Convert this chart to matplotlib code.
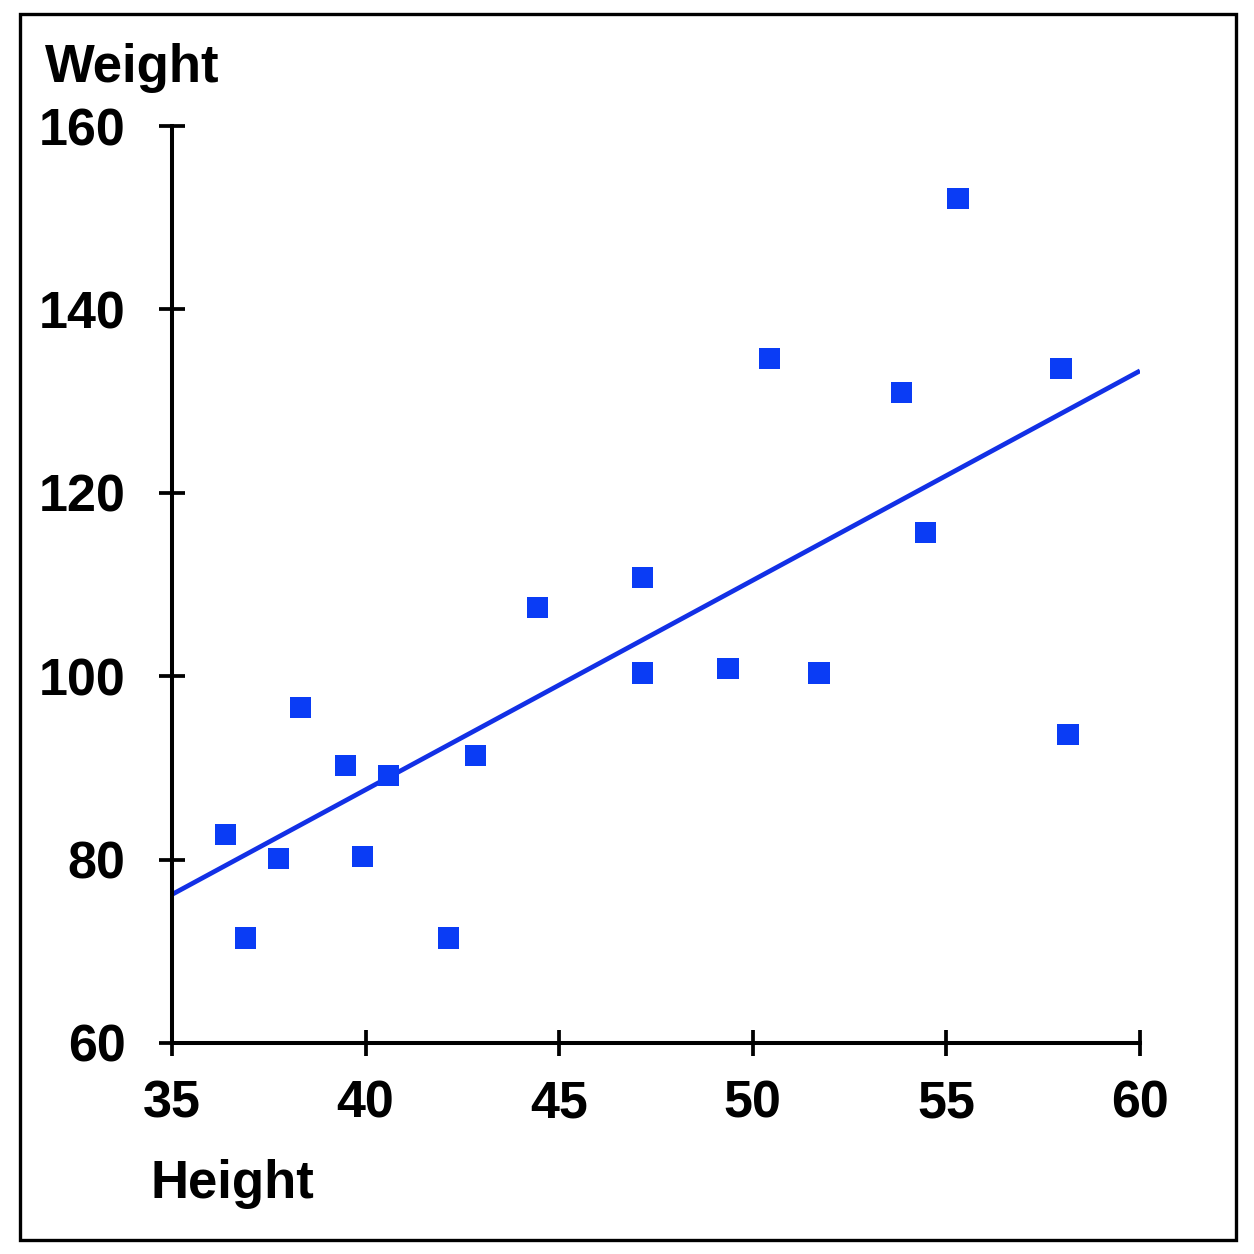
import matplotlib
matplotlib.use("Agg")
import matplotlib.pyplot as plt
from matplotlib.patches import Rectangle

height = [36.39, 36.91, 37.74, 38.31, 39.49, 39.91, 40.60, 42.15, 42.85, 44.45,
          47.16, 47.16, 49.36, 50.42, 51.71, 53.85, 54.47, 55.30, 57.96, 58.14]
weight = [82.7, 71.45, 80.1, 96.6, 90.3, 80.3, 89.2, 71.45, 91.4, 107.5,
          110.8, 100.35, 100.8, 134.6, 100.35, 130.9, 115.7, 152.1, 133.6, 93.6]
trend_x = [35, 60]
trend_y = [76.2, 133.3]
xticks = [35, 40, 45, 50, 55, 60]
yticks = [60, 80, 100, 120, 140, 160]

plt.rcParams['font.family'] = ['Liberation Sans', 'DejaVu Sans']
plt.rcParams['font.weight'] = 'bold'

W = 1254
fig = plt.figure(figsize=(12.54, 12.54), dpi=100)
ax = fig.add_axes([172/W, 1 - 1043/W, 968/W, 917/W])

ax.plot(trend_x, trend_y, color='#1230e6', lw=3.4, zorder=2, solid_capstyle='butt')
ax.scatter(height, weight, marker='s', s=230, color='#0a3cf5', edgecolors='none', zorder=3, clip_on=False)

ax.set_xlim(35, 60)
ax.set_ylim(60, 160)
ax.set_xticks(xticks)
ax.set_yticks(yticks)
ax.set_xticklabels([str(v) for v in xticks], fontsize=37.5, fontweight='bold')
ax.set_yticklabels([str(v) for v in yticks], fontsize=37.5, fontweight='bold')
for s in ['top', 'right']:
    ax.spines[s].set_visible(False)
for s in ['left', 'bottom']:
    ax.spines[s].set_linewidth(2.9)
    ax.spines[s].set_color('black')
ax.tick_params(axis='both', direction='inout', length=19, width=2.7, colors='black')
ax.tick_params(axis='x', pad=17)
ax.tick_params(axis='y', pad=24)

fig.text(45/W, 1 - 82/W, 'Weight', fontsize=38, fontweight='bold', va='baseline', ha='left')
fig.text(150/W, 1 - 1198/W, 'Height', fontsize=38, fontweight='bold', va='baseline', ha='left')

fig.patches.append(Rectangle((20/W, 1 - 1240/W), 1216/W, 1226/W, transform=fig.transFigure,
                             fill=False, edgecolor='black', lw=2.4))

fig.savefig('out.png', dpi=100, facecolor='white')
